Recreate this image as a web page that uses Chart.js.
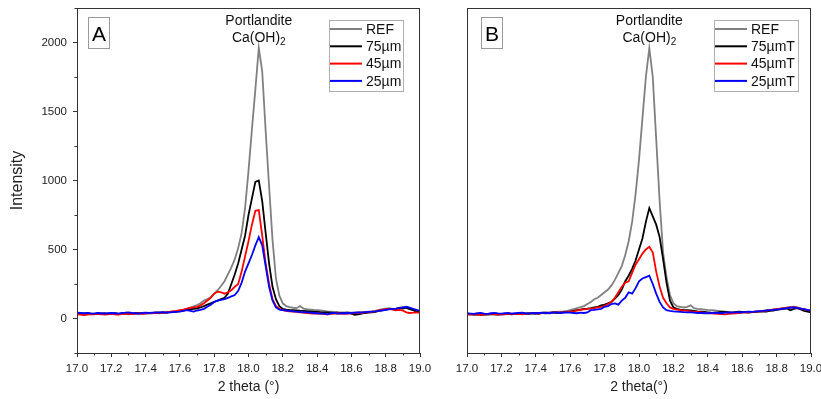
<!DOCTYPE html>
<html>
<head>
<meta charset="utf-8">
<script src="https://cdn.jsdelivr.net/npm/chart.js@4.4.1/dist/chart.umd.min.js"></script>
<style>
  html, body { margin: 0; padding: 0; background: #fff; }
  #wrap { position: relative; width: 821px; height: 399px; overflow: hidden; }
  canvas { position: absolute; top: 0; }
</style>
</head>
<body>
<div id="wrap">
  <canvas id="chartA" width="440" height="399" style="left:0"></canvas>
  <canvas id="chartB" width="400" height="399" style="left:421px"></canvas>
</div>
<script>
'use strict';

// 2 theta (°), pas de 0.02
var X = [
    17.00, 17.02, 17.04, 17.06, 17.08, 17.10, 17.12, 17.14, 17.16, 17.18,
    17.20, 17.22, 17.24, 17.26, 17.28, 17.30, 17.32, 17.34, 17.36, 17.38,
    17.40, 17.42, 17.44, 17.46, 17.48, 17.50, 17.52, 17.54, 17.56, 17.58,
    17.60, 17.62, 17.64, 17.66, 17.68, 17.70, 17.72, 17.74, 17.76, 17.78,
    17.80, 17.82, 17.84, 17.86, 17.88, 17.90, 17.92, 17.94, 17.96, 17.98,
    18.00, 18.02, 18.04, 18.06, 18.08, 18.10, 18.12, 18.14, 18.16, 18.18,
    18.20, 18.22, 18.24, 18.26, 18.28, 18.30, 18.32, 18.34, 18.36, 18.38,
    18.40, 18.42, 18.44, 18.46, 18.48, 18.50, 18.52, 18.54, 18.56, 18.58,
    18.60, 18.62, 18.64, 18.66, 18.68, 18.70, 18.72, 18.74, 18.76, 18.78,
    18.80, 18.82, 18.84, 18.86, 18.88, 18.90, 18.92, 18.94, 18.96, 18.98,
    19.00
];

var X_TICKS = [17.0, 17.2, 17.4, 17.6, 17.8, 18.0, 18.2, 18.4, 18.6, 18.8, 19.0];
var Y_TICKS = [0, 500, 1000, 1500, 2000];

var LABELS_A = ['REF', '75µm', '45µm', '25µm'];
var LABELS_B = ['REF', '75µmT', '45µmT', '25µmT'];

/* Panneau A */
var A_REF = [
    38, 35, 32, 30, 33, 35, 32, 30, 33, 36,
    34, 31, 30, 34, 36, 33, 35, 37, 34, 36,
    38, 36, 39, 41, 38, 42, 40, 44, 46, 48,
    55, 60, 68, 78, 88, 98, 110, 130, 140, 155,
    180, 205, 235, 270, 320, 370, 430, 510, 620, 800,
    1070, 1370, 1660, 1960, 1790, 1360, 960, 570, 290, 165,
    110, 90, 82, 78, 75, 90, 72, 68, 65, 62,
    60, 58, 55, 52, 50, 48, 46, 45, 44, 44,
    43, 42, 45, 47, 48, 50, 52, 55, 62, 68,
    72, 75, 70, 72, 78, 82, 76, 70, 62, 55,
    50
];
var A_75 = [
    40, 38, 35, 38, 36, 33, 37, 35, 38, 34,
    36, 38, 35, 33, 37, 39, 36, 38, 40, 37,
    39, 41, 40, 42, 44, 43, 45, 47, 50, 52,
    55, 58, 62, 66, 70, 74, 80, 90, 100, 110,
    120, 130, 140, 150, 180, 250, 320, 400, 500, 600,
    750, 870, 990, 1000, 850, 620, 400, 230, 140, 90,
    70, 65, 62, 60, 58, 56, 55, 54, 52, 50,
    48, 46, 45, 44, 42, 40, 42, 38, 40, 42,
    35, 26, 30, 36, 40, 42, 45, 48, 55, 60,
    65, 70, 68, 70, 75, 72, 78, 68, 60, 50,
    45
];
var A_45 = [
    30, 28, 25, 28, 32, 30, 35, 32, 28, 30,
    33, 30, 28, 32, 35, 30, 33, 36, 38, 34,
    36, 40, 38, 42, 40, 45, 43, 48, 52, 55,
    60, 65, 72, 78, 80, 85, 95, 110, 130, 150,
    180, 195, 190, 180, 190, 205, 230, 250, 340, 450,
    560, 680, 780, 785, 600, 400, 250, 140, 90, 70,
    60, 55, 52, 50, 48, 45, 42, 40, 38, 36,
    38, 35, 32, 30, 34, 36, 38, 35, 33, 36,
    38, 40, 42, 40, 44, 46, 48, 52, 58, 62,
    68, 70, 65, 60, 62, 58, 45, 40, 42, 45,
    40
];
var A_25 = [
    42, 40, 38, 40, 37, 36, 40, 38, 36, 38,
    40, 38, 36, 40, 42, 45, 40, 38, 36, 40,
    42, 40, 42, 44, 43, 46, 42, 44, 46, 48,
    50, 55, 60, 55, 50, 58, 62, 70, 85, 100,
    120, 130, 135, 140, 150, 160, 170, 200, 260, 340,
    400, 460, 530, 590, 530, 380, 230, 130, 80, 65,
    60, 58, 55, 52, 50, 48, 45, 44, 42, 40,
    38, 36, 35, 30, 38, 40, 36, 38, 40, 38,
    40, 42, 44, 42, 46, 48, 50, 52, 55, 58,
    62, 66, 70, 72, 75, 80, 85, 78, 70, 62,
    55
];

/* Panneau B */
var B_REF = [
    35, 33, 30, 32, 34, 30, 28, 32, 35, 33,
    30, 32, 35, 33, 36, 34, 38, 36, 35, 38,
    40, 38, 42, 44, 42, 46, 48, 50, 52, 55,
    60, 68, 75, 82, 90, 105, 120, 140, 150, 170,
    190, 210, 240, 280, 330, 380, 460, 560, 700, 900,
    1150, 1450, 1750, 1960, 1750, 1300, 850, 480, 300, 170,
    110, 90, 85, 80, 85, 95, 75, 70, 68, 65,
    62, 60, 58, 55, 52, 50, 48, 46, 45, 44,
    44, 45, 46, 48, 50, 52, 55, 58, 62, 66,
    70, 72, 75, 78, 82, 85, 80, 72, 65, 60,
    55
];
var B_75 = [
    32, 30, 28, 30, 26, 28, 30, 32, 30, 28,
    30, 32, 34, 30, 33, 35, 32, 36, 38, 35,
    38, 36, 40, 38, 42, 44, 40, 42, 45, 48,
    50, 55, 60, 65, 70, 72, 75, 80, 85, 95,
    100, 110, 120, 145, 170, 210, 270, 310, 360, 420,
    500, 580, 700, 800, 740, 680, 590, 430, 260, 130,
    80, 70, 65, 62, 60, 58, 55, 52, 50, 48,
    45, 42, 40, 45, 50, 48, 44, 42, 46, 50,
    48, 44, 42, 46, 48, 50, 52, 50, 55, 58,
    62, 66, 70, 72, 60, 70, 75, 65, 55, 50,
    45
];
var B_45 = [
    30, 28, 32, 26, 30, 28, 32, 35, 30, 28,
    32, 30, 34, 36, 32, 34, 30, 33, 36, 40,
    38, 36, 40, 42, 38, 44, 46, 42, 45, 48,
    50, 52, 58, 62, 66, 70, 72, 75, 80, 85,
    90, 105, 120, 150, 190, 230, 260, 270, 330, 390,
    430, 470, 500, 520, 480, 340, 230, 150, 110, 80,
    70, 65, 60, 58, 55, 52, 50, 48, 45, 42,
    40, 38, 36, 34, 32, 30, 34, 36, 38, 40,
    42, 44, 45, 48, 50, 52, 54, 56, 60, 64,
    68, 72, 75, 78, 80, 82, 78, 72, 66, 60,
    55
];
var B_25 = [
    38, 36, 34, 38, 40, 36, 34, 38, 40, 37,
    36, 38, 40, 36, 38, 40, 42, 38, 36, 40,
    38, 40, 42, 40, 38, 42, 44, 40, 42, 44,
    42, 40, 38, 42, 40, 44, 60, 62, 66, 70,
    85, 90, 105, 110, 100, 130, 150, 190, 180, 220,
    270, 290, 300, 310, 250, 180, 120, 80, 60, 55,
    52, 50, 48, 46, 45, 44, 42, 40, 40, 38,
    38, 40, 42, 40, 38, 42, 44, 42, 44, 46,
    45, 48, 50, 48, 52, 54, 55, 58, 60, 62,
    65, 68, 72, 75, 78, 80, 76, 72, 68, 62,
    58
];

var COLORS = ['#808080', '#000000', '#ff0000', '#0000ff'];
var FONT   = '"Liberation Sans", Arial, sans-serif';
var AXIS   = '#333333';

function points(ys) {
    return X.map(function (x, i) { return { x: x, y: ys[i] }; });
}

/* Cadre, graduations mineures, lettre, annotation, légende */
var decorPlugin = {
    id: 'decor',
    afterDraw: function (chart, args, o) {
        var ctx = chart.ctx;
        var a   = chart.chartArea;
        var xs  = chart.scales.x;
        var ys  = chart.scales.y;
        ctx.save();

        // cadre
        ctx.strokeStyle = AXIS;
        ctx.lineWidth = 1;
        ctx.strokeRect(a.left + 0.5, a.top + 0.5, a.right - a.left - 1, a.bottom - a.top);

        // graduations mineures
        ctx.beginPath();
        for (var i = 0; i < X_TICKS.length - 1; i++) {
            var px = Math.round(xs.getPixelForValue((X_TICKS[i] + X_TICKS[i + 1]) / 2)) + 0.5;
            ctx.moveTo(px, a.bottom);
            ctx.lineTo(px, a.bottom + 2.5);
        }
        if (o.yTicks) {
            var minors = [-250, 2250];
            for (var j = 0; j < Y_TICKS.length - 1; j++) minors.push((Y_TICKS[j] + Y_TICKS[j + 1]) / 2);
            minors.forEach(function (v) {
                var py = Math.round(ys.getPixelForValue(v)) + 0.5;
                ctx.moveTo(a.left, py);
                ctx.lineTo(a.left - 2.5, py);
            });
        }
        ctx.stroke();

        // lettre du panneau
        ctx.strokeStyle = '#9a9a9a';
        ctx.strokeRect(o.letterX + 0.5, 17.5, 21, 31);
        ctx.fillStyle = '#000';
        ctx.font = '21px ' + FONT;
        ctx.textAlign = 'center';
        ctx.textBaseline = 'alphabetic';
        ctx.fillText(o.letter, o.letterX + 11, 41);

        // annotation du pic
        var cx = xs.getPixelForValue(o.peakX);
        ctx.fillStyle = '#111';
        ctx.font = '14px ' + FONT;
        ctx.fillText('Portlandite', cx, 25);
        var base = 'Ca(OH)';
        var wBase = ctx.measureText(base).width;
        ctx.font = '10px ' + FONT;
        var wSub = ctx.measureText('2').width;
        var left = cx - (wBase + wSub) / 2;
        ctx.textAlign = 'left';
        ctx.font = '14px ' + FONT;
        ctx.fillText(base, left, 42);
        ctx.font = '10px ' + FONT;
        ctx.fillText('2', left + wBase, 45);

        // légende
        var lx = o.legendX, lw = o.legendW;
        ctx.strokeStyle = '#b0b0b0';
        ctx.lineWidth = 1;
        ctx.strokeRect(lx + 0.5, 20.5, lw, 71);
        ctx.font = '14px ' + FONT;
        ctx.textBaseline = 'middle';
        chart.data.datasets.forEach(function (ds, k) {
            var y = 29 + k * 17.3;
            ctx.strokeStyle = ds.borderColor;
            ctx.lineWidth = 2;
            ctx.beginPath();
            ctx.moveTo(lx + 1, y);
            ctx.lineTo(lx + 33, y);
            ctx.stroke();
            ctx.fillStyle = '#111';
            ctx.fillText(ds.label, lx + 37, y + 1);
        });
        ctx.restore();
    }
};

function makeChart(id, labels, series, o) {
    var datasets = series.map(function (s, i) {
        return {
            label:       labels[i],
            data:        points(s),
            borderColor: COLORS[i],
            borderWidth: 1.8,
            pointRadius: 0,
            tension:     0,
            fill:        false,
            order:       4 - i
        };
    });

    return new Chart(document.getElementById(id), {
        type: 'line',
        data: { datasets: datasets },
        options: {
            responsive: false,
            animation:  false,
            layout: { padding: { left: 0, top: 8, right: o.padRight, bottom: 0 } },
            plugins: {
                legend:  { display: false },
                tooltip: { enabled: false },
                decor:   o
            },
            scales: {
                x: {
                    type: 'linear',
                    min: 17, max: 19,
                    afterBuildTicks: function (s) {
                        s.ticks = X_TICKS.map(function (v) { return { value: v }; });
                    },
                    afterFit: function (s) {
                        s.height = 46;
                        s.paddingLeft = 0;
                        s.paddingRight = 0;
                    },
                    border: { display: false },
                    grid: { drawOnChartArea: false, drawTicks: true, tickLength: 4, color: AXIS },
                    ticks: {
                        autoSkip: false, maxRotation: 0, padding: 5,
                        color: '#222', font: { family: FONT, size: 11.5 },
                        callback: function (v) { return Number(v).toFixed(1); }
                    },
                    title: {
                        display: true, text: o.xTitle, color: '#222',
                        font: { family: FONT, size: 14 },
                        padding: { top: 0, bottom: 3 }
                    }
                },
                y: {
                    type: 'linear',
                    min: -250, max: 2250,
                    afterBuildTicks: function (s) {
                        s.ticks = Y_TICKS.map(function (v) { return { value: v }; });
                    },
                    afterFit: function (s) {
                        s.width = o.yWidth;
                        s.paddingTop = 0;
                        s.paddingBottom = 0;
                    },
                    border: { display: false },
                    grid: { display: o.yTicks, drawOnChartArea: false, drawTicks: true, tickLength: 4, color: AXIS },
                    ticks: {
                        display: o.yTicks, padding: 6,
                        color: '#222', font: { family: FONT, size: 11.5 },
                        callback: function (v) { return String(v); }
                    },
                    title: {
                        display: o.yTicks, text: 'Intensity', color: '#222',
                        font: { family: FONT, size: 16 },
                        padding: { top: 8, bottom: 0 }
                    }
                }
            }
        },
        plugins: [decorPlugin]
    });
}

makeChart('chartA', LABELS_A, [A_REF, A_75, A_45, A_25], {
    letter: 'A', letterX: 88, peakX: 18.06, legendX: 329, legendW: 74,
    xTitle: '2 theta (°)', yTicks: true, yWidth: 77, padRight: 20
});

makeChart('chartB', LABELS_B, [B_REF, B_75, B_45, B_25], {
    letter: 'B', letterX: 60, peakX: 18.06, legendX: 293, legendW: 84,
    xTitle: '2 theta(°)', yTicks: false, yWidth: 46, padRight: 10
});
</script>
</body>
</html>
